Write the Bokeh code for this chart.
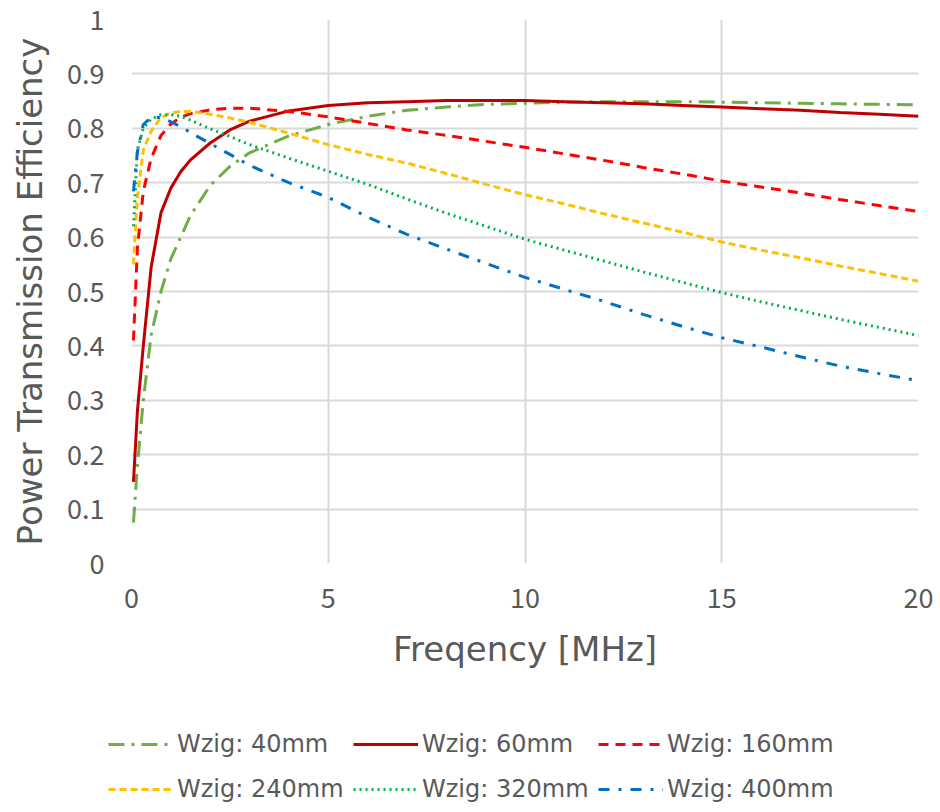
from bokeh.plotting import figure
from bokeh.layouts import column
from bokeh.models import Legend, LegendItem, NumeralTickFormatter, FixedTicker, Range1d
from bokeh.embed import file_html
from bokeh.resources import INLINE

# Frequency sample points [MHz]
freq = [0.05, 0.15, 0.3, 0.5, 0.75, 1.0, 1.25, 1.5, 2.0, 2.5, 3.0, 4.0, 5.0,
        6.0, 7.0, 8.0, 9.0, 10.0, 11.0, 12.0, 13.0, 14.0, 15.0, 16.0, 17.0,
        18.0, 19.0, 20.0]

# Power transmission efficiency for each zigzag width
eff_40 = [0.075, 0.18, 0.30, 0.42, 0.50, 0.56, 0.60, 0.64, 0.695, 0.73, 0.755,
          0.786, 0.807, 0.822, 0.833, 0.839, 0.844, 0.846, 0.848, 0.849, 0.849,
          0.849, 0.848, 0.847, 0.846, 0.845, 0.844, 0.843]
eff_60 = [0.15, 0.28, 0.40, 0.545, 0.645, 0.69, 0.72, 0.742, 0.773, 0.797, 0.813,
          0.832, 0.842, 0.847, 0.849, 0.851, 0.851, 0.851, 0.849, 0.847, 0.845,
          0.842, 0.839, 0.836, 0.833, 0.829, 0.826, 0.822]
eff_160 = [0.41, 0.58, 0.684, 0.745, 0.787, 0.808, 0.820, 0.827, 0.834, 0.837,
           0.837, 0.831, 0.821, 0.809, 0.797, 0.787, 0.776, 0.765, 0.753, 0.741,
           0.728, 0.716, 0.703, 0.692, 0.681, 0.669, 0.658, 0.647]
eff_240 = [0.55, 0.673, 0.76, 0.795, 0.82, 0.828, 0.831, 0.831, 0.826, 0.819,
           0.811, 0.791, 0.770, 0.752, 0.736, 0.717, 0.697, 0.678, 0.661, 0.643,
           0.626, 0.609, 0.591, 0.576, 0.562, 0.547, 0.533, 0.519]
eff_320 = [0.62, 0.76, 0.80, 0.817, 0.825, 0.825, 0.822, 0.815, 0.799, 0.785,
           0.770, 0.745, 0.721, 0.697, 0.670, 0.644, 0.620, 0.596, 0.576, 0.556,
           0.536, 0.517, 0.498, 0.481, 0.465, 0.449, 0.434, 0.419]
eff_400 = [0.684, 0.757, 0.807, 0.82, 0.82, 0.812, 0.803, 0.792, 0.772, 0.752,
           0.732, 0.700, 0.673, 0.637, 0.605, 0.578, 0.552, 0.526, 0.504, 0.482,
           0.458, 0.436, 0.415, 0.398, 0.380, 0.363, 0.349, 0.336]

labels = ["Wzig: 40mm", "Wzig: 60mm", "Wzig: 160mm",
          "Wzig: 240mm", "Wzig: 320mm", "Wzig: 400mm"]
x_ticks = [0, 5, 10, 15, 20]
y_ticks = [0, 0.1, 0.2, 0.3, 0.4, 0.5, 0.6, 0.7, 0.8, 0.9, 1.0]

TICK_FONT = "Noto Sans CJK JP"
TITLE_FONT = "DejaVu Sans"
GREY = "#595959"

# line style per series: (values, colour, dash pattern)
styles = [
    (eff_40, "#70AD47", "16 7 3 7"),
    (eff_60, "#C00000", "solid"),
    (eff_160, "#FF0000", "10 7"),
    (eff_240, "#FFC000", "7 4"),
    (eff_320, "#00B050", "2 4"),
    (eff_400, "#0070C0", "11 9 3 9"),
]

# --- main chart -------------------------------------------------------------
p = figure(frame_width=787, frame_height=544, output_backend="svg", toolbar_location=None,
           x_range=Range1d(0, 20), y_range=Range1d(0, 1),
           x_axis_label="Freqency [MHz]", y_axis_label="Power Transmission Efficiency")
p.min_border_left = 131
p.min_border_right = 22
p.min_border_top = 19
p.min_border_bottom = 159
p.outline_line_color = None

for ys, color, dash in styles:
    p.line(freq, ys, line_color=color, line_width=3, line_dash=dash)

for ax in (p.xaxis[0], p.yaxis[0]):
    ax.axis_line_color = None
    ax.major_tick_line_color = None
    ax.minor_tick_line_color = None
    ax.major_tick_out = 0
    ax.major_tick_in = 0
    ax.major_label_text_font = TICK_FONT
    ax.major_label_text_font_size = "27px"
    ax.major_label_text_color = GREY
    ax.axis_label_text_font = TITLE_FONT
    ax.axis_label_text_font_size = "34px"
    ax.axis_label_text_color = GREY
    ax.axis_label_text_font_style = "normal"

p.xaxis.ticker = FixedTicker(ticks=x_ticks)
p.yaxis.ticker = FixedTicker(ticks=y_ticks)
p.yaxis.formatter = NumeralTickFormatter(format="0.[0]")
p.xaxis.major_label_standoff = 24
p.xaxis.axis_label_standoff = 18
p.yaxis.major_label_standoff = 27
p.yaxis.axis_label_standoff = 14

p.xgrid.grid_line_color = "#D9D9D9"
p.ygrid.grid_line_color = "#D9D9D9"
p.xgrid.grid_line_width = 2
p.ygrid.grid_line_width = 2

# --- legend strip underneath ------------------------------------------------
leg = figure(frame_width=940, frame_height=90, output_backend="svg", toolbar_location=None,
             x_range=Range1d(0, 1), y_range=Range1d(0, 1),
             x_axis_location=None, y_axis_location=None)
leg.min_border = 0
leg.outline_line_color = None
leg.grid.visible = False
leg.background_fill_color = "white"
leg.border_fill_color = "white"

# key renderers carry only the line styles; they have no visible points
nan = float("nan")
keys = []
for ys, color, dash in styles:
    keys.append(leg.line([nan], [nan], line_color=color, line_width=3, line_dash=dash))


def make_legend(idx, y):
    return Legend(
        items=[LegendItem(label=labels[i], renderers=[keys[i]]) for i in idx],
        orientation="horizontal",
        label_text_font=TITLE_FONT, label_text_font_size="24px", label_text_color=GREY,
        glyph_width=65, glyph_height=20, label_standoff=4, label_width=170, spacing=6,
        border_line_color=None, background_fill_alpha=0,
        padding=4, margin=0, location=(108, y),
    )


leg.add_layout(make_legend([0, 1, 2], 54))
leg.add_layout(make_legend([3, 4, 5], 9))

layout = column(p, leg, spacing=0)
open("out.html", "w").write(file_html(layout, INLINE))
